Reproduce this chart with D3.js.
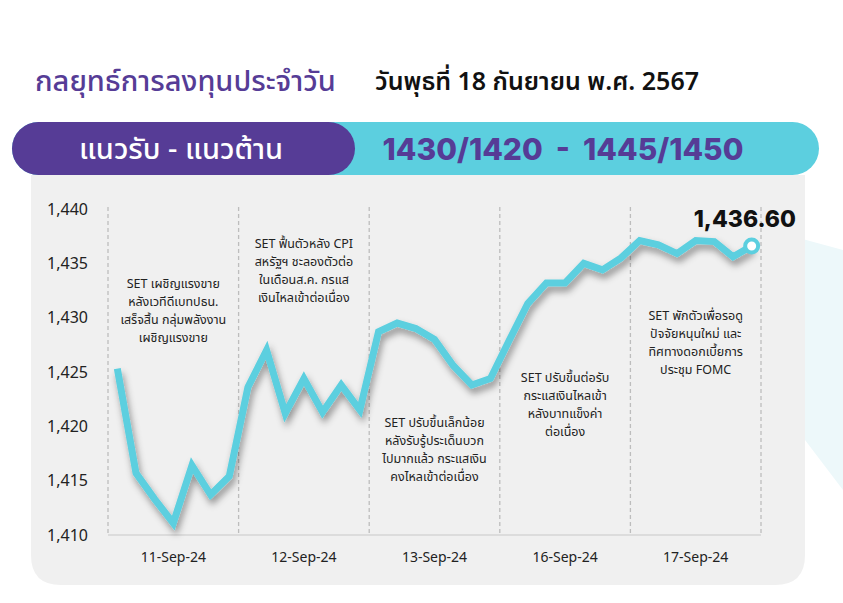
<!DOCTYPE html>
<html><head><meta charset="utf-8">
<script src="https://cdn.jsdelivr.net/npm/d3@7"></script>
<style>
html,body{margin:0;padding:0;background:#fff;}
svg{display:block;font-family:"Noto Sans Thai","Noto Sans","Inter",sans-serif;}
</style></head>
<body><svg id="c" width="843" height="603"></svg>
<script>
const title = "กลยุทธ์การลงทุนประจำวัน";
const dateText = "วันพุธที่ 18 กันยายน พ.ศ. 2567";
const bannerLabel = "แนวรับ - แนวต้าน";
const bannerValue = "1430/1420  -  1445/1450";
const days = ["11-Sep-24","12-Sep-24","13-Sep-24","16-Sep-24","17-Sep-24"];
const yTicks = [1410,1415,1420,1425,1430,1435,1440];
const setValues = [
  [1425.3,1415.7,1413.3,1411.1,1416.4,1413.7,1415.4],
  [1423.6,1427.0,1421.2,1424.4,1421.3,1423.8,1421.5],
  [1428.7,1429.5,1429.0,1428.0,1425.6,1423.8,1424.4],
  [1427.9,1431.3,1433.2,1433.2,1435.0,1434.4,1435.5],
  [1437.1,1436.7,1435.9,1437.1,1437.0,1435.6,1436.6]
];
const lastLabel = "1,436.60";
const notes = [
  ["SET เผชิญแรงขาย","หลังเวทีดีเบทปธน.","เสร็จสิ้น กลุ่มพลังงาน","เผชิญแรงขาย"],
  ["SET ฟื้นตัวหลัง CPI","สหรัฐฯ ชะลองตัวต่อ","ในเดือนส.ค. กรแส","เงินไหลเข้าต่อเนื่อง"],
  ["SET ปรับขึ้นเล็กน้อย","หลังรับรู้ประเด็นบวก","ไปมากแล้ว กระแสเงิน","คงไหลเข้าต่อเนื่อง"],
  ["SET ปรับขึ้นต่อรับ","กระแสเงินไหลเข้า","หลังบาทแข็งค่า","ต่อเนื่อง"],
  ["SET พักตัวเพื่อรอดู","ปัจจัยหนุนใหม่ และ","ทิศทางดอกเบี้ยการ","ประชุม FOMC"]
];
const noteTop = [283, 243, 422, 377, 315];

const svg = d3.select("#c");
const purple = "#563C96", teal = "#5CCFDF";

// decorative pale shape
svg.append("path").attr("d","M740,222 L843,250 L843,490 L805,440 L740,420 Z").attr("fill","#EDF8FA");

// card
const cx0=31, cy0=175, cx1=805, cy1=585, r=30;
svg.append("path").attr("fill","#F0F0F0")
  .attr("d",`M${cx0},${cy0} H${cx1} V${cy1-r} Q${cx1},${cy1} ${cx1-r},${cy1} H${cx0+r} Q${cx0},${cy1} ${cx0},${cy1-r} Z`);

// title
svg.append("text").attr("x",35).attr("y",91).attr("fill",purple).attr("font-size",29).attr("font-weight",500).text(title);
svg.append("text").attr("x",375).attr("y",90).attr("fill","#111").attr("font-size",25).attr("font-weight",600).text(dateText);

// banner
svg.append("rect").attr("x",12).attr("y",122).attr("width",807).attr("height",53).attr("rx",26.5).attr("fill",teal);
svg.append("rect").attr("x",12).attr("y",122).attr("width",343).attr("height",53).attr("rx",26.5).attr("fill",purple);
svg.append("text").attr("x",181).attr("y",159).attr("text-anchor","middle").attr("fill","#fff").attr("font-size",29).attr("font-weight",500).text(bannerLabel);
svg.append("text").attr("x",563).attr("y",160).attr("text-anchor","middle").attr("fill",purple).attr("font-size",30).attr("font-weight",800).attr("font-family","Inter, 'Noto Sans', sans-serif").attr("xml:space","preserve").style("white-space","pre").text(bannerValue);

// scales
const x0 = 108, x1 = 761, yTop = 209, yBot = 535;
const xDay = d3.scaleBand().domain(days).range([x0,x1]).padding(0);
const xIn = d3.scalePoint().domain(d3.range(7)).range([0,xDay.bandwidth()]).padding(0.5);
const y = d3.scaleLinear().domain([1410,1440]).range([yBot,yTop]);

const pts = [];
days.forEach((d,i)=>setValues[i].forEach((v,j)=>pts.push({x:xDay(d)+xIn(j), v})));

// dashed separators
const seps = days.map(d=>xDay(d)).concat([x1]);
svg.append("g").selectAll("line").data(seps).join("line")
  .attr("x1",d=>d).attr("x2",d=>d).attr("y1",yTop-2).attr("y2",yBot)
  .attr("stroke","#BDBDBD").attr("stroke-width",1.3).attr("stroke-dasharray","4,3");
svg.append("line").attr("x1",x0).attr("x2",x1).attr("y1",yBot).attr("y2",yBot).attr("stroke","#D6D6D6").attr("stroke-width",1.5);

// y axis
const yAxis = d3.axisLeft(y).tickValues(yTicks).tickFormat(d3.format(",")).tickSize(0).tickPadding(0);
const ga = svg.append("g").attr("transform","translate(88,0)").call(yAxis);
ga.select(".domain").remove();
ga.selectAll("text").attr("font-size",16).attr("fill","#222").attr("font-family","'Noto Sans',sans-serif");

// x axis labels
const xAxis = d3.axisBottom(xDay).tickSize(0).tickPadding(0);
const gx = svg.append("g").attr("transform","translate(0,552)").call(xAxis);
gx.select(".domain").remove();
gx.selectAll("text").attr("font-size",14).attr("fill","#222").attr("font-family","'Noto Sans',sans-serif");

// notes
days.forEach((d,i)=>{
  const t = svg.append("text").attr("text-anchor","middle").attr("font-size",12.5).attr("fill","#222");
  notes[i].forEach((line,k)=>{
    t.append("tspan").attr("x",xDay(d)+xDay.bandwidth()/2).attr("y",noteTop[i]+k*18.3+4.5).text(line);
  });
});

// line
const defs = svg.append("defs");
const f = defs.append("filter").attr("id","sh").attr("x","-10%").attr("y","-10%").attr("width","130%").attr("height","140%");
f.append("feDropShadow").attr("dx",2).attr("dy",5).attr("stdDeviation",3.5).attr("flood-color","#000").attr("flood-opacity",0.4);
const line = d3.line().x(d=>d.x).y(d=>y(d.v));
svg.append("path").datum(pts).attr("d",line).attr("fill","none").attr("stroke",teal)
  .attr("stroke-width",7).attr("stroke-linejoin","miter").attr("filter","url(#sh)");

const last = pts[pts.length-1];
svg.append("circle").attr("cx",last.x).attr("cy",y(last.v)).attr("r",6.5).attr("fill","#fff").attr("stroke",teal).attr("stroke-width",4);
svg.append("text").attr("x",796).attr("y",227).attr("text-anchor","end").attr("font-size",23).attr("font-weight",800)
  .attr("font-family","Inter,'Noto Sans',sans-serif").attr("fill","#111").text(lastLabel);
</script></body></html>
